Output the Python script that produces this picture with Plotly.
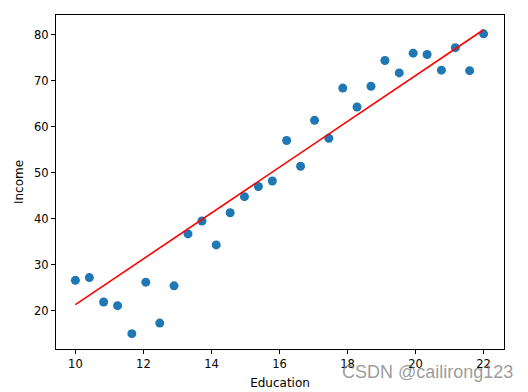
import plotly.graph_objects as go

education = [10.00, 10.41, 10.83, 11.24, 11.66, 12.07, 12.48, 12.90, 13.31, 13.72,
             14.14, 14.55, 14.97, 15.38, 15.79, 16.21, 16.62, 17.03, 17.45, 17.86,
             18.28, 18.69, 19.10, 19.52, 19.93, 20.34, 20.76, 21.17, 21.59, 22.00]
income = [26.6, 27.2, 21.9, 21.1, 15.0, 26.2, 17.3, 25.4, 36.7, 39.5,
          34.3, 41.3, 44.8, 47.0, 48.2, 57.0, 51.4, 61.4, 57.5, 68.4,
          64.3, 68.8, 74.4, 71.7, 76.0, 75.7, 72.3, 77.2, 72.2, 80.2]
# regression line (endpoints)
fit_education = [10.0, 22.0]
fit_income = [21.3, 81.1]
x_ticks = [10, 12, 14, 16, 18, 20, 22]
y_ticks = [20, 30, 40, 50, 60, 70, 80]

fig = go.Figure()
fig.add_trace(go.Scatter(x=education, y=income, mode="markers",
                         marker=dict(color="#1f77b4", size=9, line=dict(width=0)),
                         showlegend=False))
fig.add_trace(go.Scatter(x=fit_education, y=fit_income, mode="lines",
                         line=dict(color="red", width=1.6), showlegend=False))

tick_font = dict(family="DejaVu Sans", size=11.5, color="black")
title_font = dict(family="DejaVu Sans", size=12, color="black")
axis_common = dict(showline=True, mirror=True, linecolor="black", linewidth=1,
                   ticks="outside", ticklen=4, tickcolor="black", showgrid=False,
                   zeroline=False, tickfont=tick_font, automargin=False)
fig.update_xaxes(range=[9.43, 22.6], tickvals=x_ticks,
                 title=dict(text="Education", font=title_font, standoff=8),
                 **axis_common)
fig.update_yaxes(range=[11.67, 84.3], tickvals=y_ticks,
                 title=dict(text="Income", font=title_font, standoff=7),
                 **axis_common)
fig.add_annotation(text="CSDN @cailirong123", xref="paper", yref="paper",
                   x=1.024, y=-0.069, xanchor="right", yanchor="middle", showarrow=False,
                   font=dict(family="Liberation Sans", size=18, color="rgba(130,130,130,0.8)"))
# page body has an 8px default margin, so the figure is offset by 8px
fig.update_layout(width=520, height=384, margin=dict(l=48, r=24, t=7, b=43),
                  plot_bgcolor="white", paper_bgcolor="white")
fig.write_html("out.html")
